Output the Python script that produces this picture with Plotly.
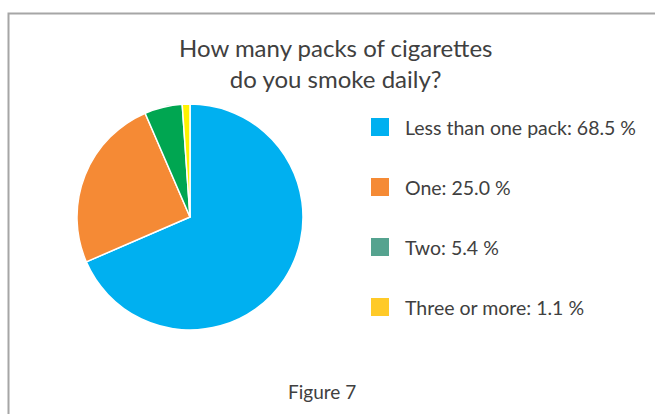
import plotly.graph_objects as go

categories = ["Less than one pack", "One", "Two", "Three or more"]
values = [68.5, 25.0, 5.4, 1.1]
slice_colors = ["#00B0F0", "#F58A35", "#00A651", "#FFF200"]
legend_colors = ["#00B0F0", "#F58A35", "#55A38F", "#FFCA28"]
title_lines = ["How many packs of cigarettes", "do you smoke daily?"]
caption = "Figure 7"

W, H = 655, 414
FONT = "Lato"
TXT = "#404040"

fig = go.Figure(go.Pie(
    labels=categories,
    values=values,
    sort=False,
    direction="clockwise",
    rotation=0,
    marker=dict(colors=slice_colors, line=dict(color="white", width=1.5)),
    textinfo="none",
    hoverinfo="label+percent",
    showlegend=False,
    domain=dict(x=[77 / W, 303 / W], y=[(H - 330) / H, (H - 104) / H]),
))

shapes = [dict(type="rect", xref="paper", yref="paper",
               x0=8.5 / W, x1=1.02, y0=-0.02, y1=1 - 13.5 / H,
               line=dict(color="#A6A6A6", width=2), fillcolor="rgba(0,0,0,0)")]
annotations = [
    dict(text="<br>".join(title_lines), x=335 / W, y=1 - 63 / H, xref="paper", yref="paper",
         showarrow=False, font=dict(family=FONT, size=24, color=TXT), align="center",
         xanchor="center", yanchor="middle"),
    dict(text=caption, x=322 / W, y=1 - 391 / H, xref="paper", yref="paper",
         showarrow=False, font=dict(family=FONT, size=19, color=TXT),
         xanchor="center", yanchor="middle"),
]

row_y = [127, 187, 247, 307]
total = sum(values)
for cat, val, col, ry in zip(categories, values, legend_colors, row_y):
    shapes.append(dict(type="rect", xref="paper", yref="paper",
                       x0=371 / W, x1=389 / W, y0=1 - (ry + 9) / H, y1=1 - (ry - 9) / H,
                       line=dict(width=0), fillcolor=col))
    annotations.append(dict(text=f"{cat}: {val / total * 100:.1f} %", x=403 / W, y=1 - ry / H,
                            xref="paper", yref="paper", showarrow=False,
                            font=dict(family=FONT, size=19.5, color=TXT),
                            xanchor="left", yanchor="middle"))

fig.update_layout(
    width=W, height=H,
    margin=dict(l=0, r=0, t=0, b=0),
    paper_bgcolor="white", plot_bgcolor="white",
    shapes=shapes, annotations=annotations,
)

fig.write_html("out.html", config={"displayModeBar": False},
               post_script="document.body.style.margin='0';")
